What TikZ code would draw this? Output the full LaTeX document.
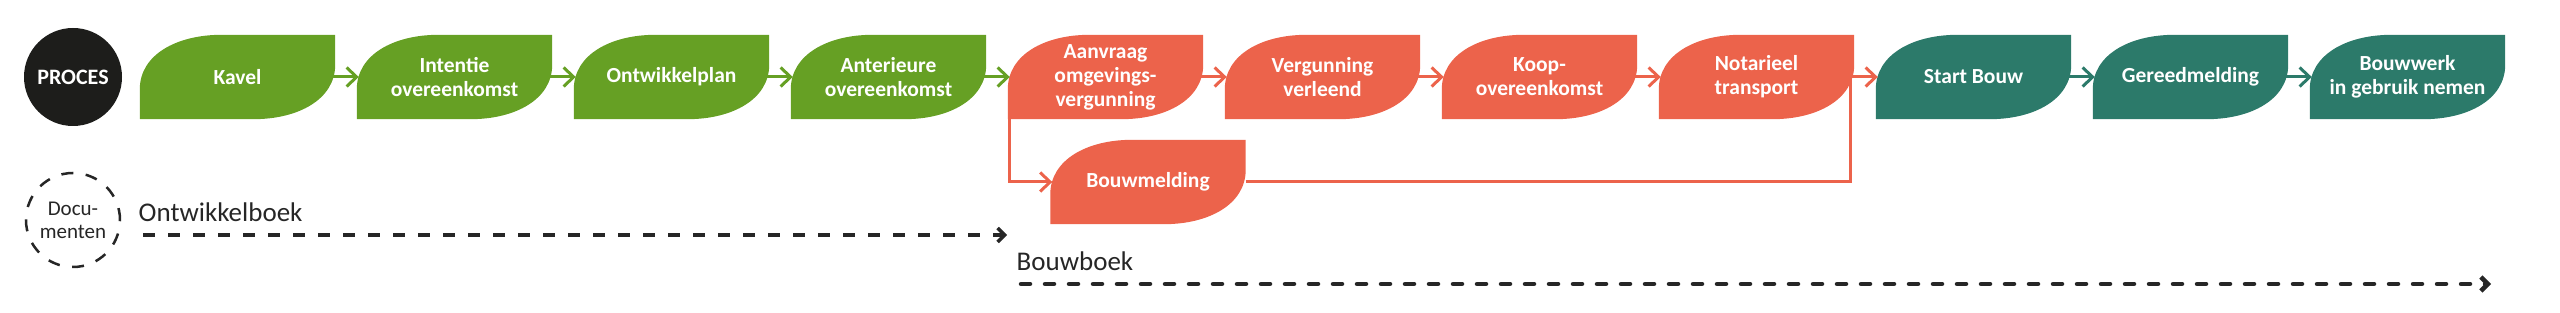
\documentclass[tikz,border=0pt]{standalone}
\usepackage{fontspec}
\setmainfont{Carlito}
\usepackage{xcolor}
\definecolor{leafgreen}{RGB}{102,160,36}
\definecolor{leafred}{RGB}{236,99,75}
\definecolor{leafteal}{RGB}{44,122,106}
\definecolor{procblack}{RGB}{29,29,27}
\definecolor{doctext}{RGB}{38,38,38}
\usepackage{tikz}
\usetikzlibrary{arrows.meta,calc,backgrounds}

\begin{document}
\begin{tikzpicture}[
  x=1pt, y=1pt,
  font=\fontsize{21.5}{24}\selectfont\bfseries,
  leaf/.style={rectangle, minimum width=195pt, minimum height=84pt, inner sep=0pt,
    align=center, text=white},
  arr/.style={-{Straight Barb[length=10pt,width=19pt]}, line width=3pt,
    shorten <=-6pt, shorten >=-2pt},
  link/.style={line width=3pt},
  docarr/.style={-{Straight Barb[length=7pt,width=14pt]}, color=doctext},
  doctxt/.style={inner sep=0pt, text=doctext, font=\fontsize{27}{30}\selectfont\mdseries}
]
\useasboundingbox (0,0) rectangle (2560,313);

%% Process start
\node[circle, fill=procblack, minimum size=98pt, inner sep=0pt, text=white,
      font=\fontsize{22}{24}\selectfont\bfseries] (proc) at (73,236) {PROCES};

%% Development leaves
\node[leaf] (kav) at (237.5,236) {Kavel};
\node[leaf] (int) at (454.5,236) {Intentie\\overeenkomst};
\node[leaf] (owp) at (671.5,236) {Ontwikkelplan};
\node[leaf] (ant) at (888.5,236) {Anterieure\\overeenkomst};

%% Permit leaves
\node[leaf] (aan) at (1105.5,236) {Aanvraag\\omgevings-\\vergunning};
\node[leaf] (verg) at (1322.5,236) {Vergunning\\verleend};
\node[leaf] (koop) at (1539.5,236) {Koop-\\overeenkomst};
\node[leaf] (not) at (1756.5,236) {Notarieel\\transport};
\node[leaf] (bmeld) at (1148,131) {Bouwmelding};

%% Building leaves
\node[leaf] (sb) at (1973.5,236) {Start Bouw};
\node[leaf] (gm) at (2190.5,236) {Gereedmelding};
\node[leaf] (bw) at (2407.5,236) {Bouwwerk\\in gebruik nemen};

%% Leaf shapes behind the texts
\begin{scope}[on background layer]
\foreach \n/\c in {kav/leafgreen, int/leafgreen, owp/leafgreen, ant/leafgreen,
    aan/leafred, verg/leafred, koop/leafred, not/leafred, bmeld/leafred,
    sb/leafteal, gm/leafteal, bw/leafteal}
  \fill[\c] (\n.south west) -- ($(\n.south west)+(0,30)$)
    .. controls ($(\n.south west)+(0,64)$) and ($(\n.north west)+(36,0)$) .. ($(\n.north west)+(82,0)$)
    -- (\n.north east) -- ($(\n.north east)+(0,-30)$)
    .. controls ($(\n.north east)+(0,-64)$) and ($(\n.south east)+(-36,0)$) .. ($(\n.south east)+(-82,0)$)
    -- cycle;
\end{scope}

%% Arrows between leaves
\draw[arr, leafgreen] (kav.east) -- (int.west);
\draw[arr, leafgreen] (int.east) -- (owp.west);
\draw[arr, leafgreen] (owp.east) -- (ant.west);
\draw[arr, leafgreen] (ant.east) -- (aan.west);
\draw[arr, leafred] (aan.east) -- (verg.west);
\draw[arr, leafred] (verg.east) -- (koop.west);
\draw[arr, leafred] (koop.east) -- (not.west);
\draw[arr, leafred] (not.east) -- (sb.west);
\draw[arr, leafteal] (sb.east) -- (gm.west);
\draw[arr, leafteal] (gm.east) -- (bw.west);

%% Bouwmelding bypass
\coordinate (jn) at ([xshift=-4pt]not.east);
\draw[arr, leafred] ([xshift=1.5pt]aan.south west) |- (bmeld.west);
\draw[link, leafred] (bmeld.east) -| (jn);

%% Documents
\node[circle, draw=doctext, line width=2.5pt, dash pattern=on 12pt off 12.5pt,
      minimum size=94pt, inner sep=0pt, align=center, text=doctext,
      font=\fontsize{21}{23}\selectfont\mdseries] (doc) at (73,93) {Docu-\\menten};

\node[doctxt, anchor=base west] (ontw) at (138.5,91) {Ontwikkelboek};
\coordinate (ontwA) at (143,78);
\coordinate (ontwB) at (1007,78);
\draw[docarr, line width=3.5pt, dash pattern=on 12pt off 13pt] (ontwA) -- (ontwB);

\node[doctxt, anchor=base west] (bouw) at (1016.5,42) {Bouwboek};
\coordinate (bouwA) at (1021,29);
\coordinate (bouwB) at (2491,29);
\draw[docarr, line width=4.5pt, line cap=round, dash pattern=on 9pt off 15pt] (bouwA) -- (bouwB);

\end{tikzpicture}
\end{document}
